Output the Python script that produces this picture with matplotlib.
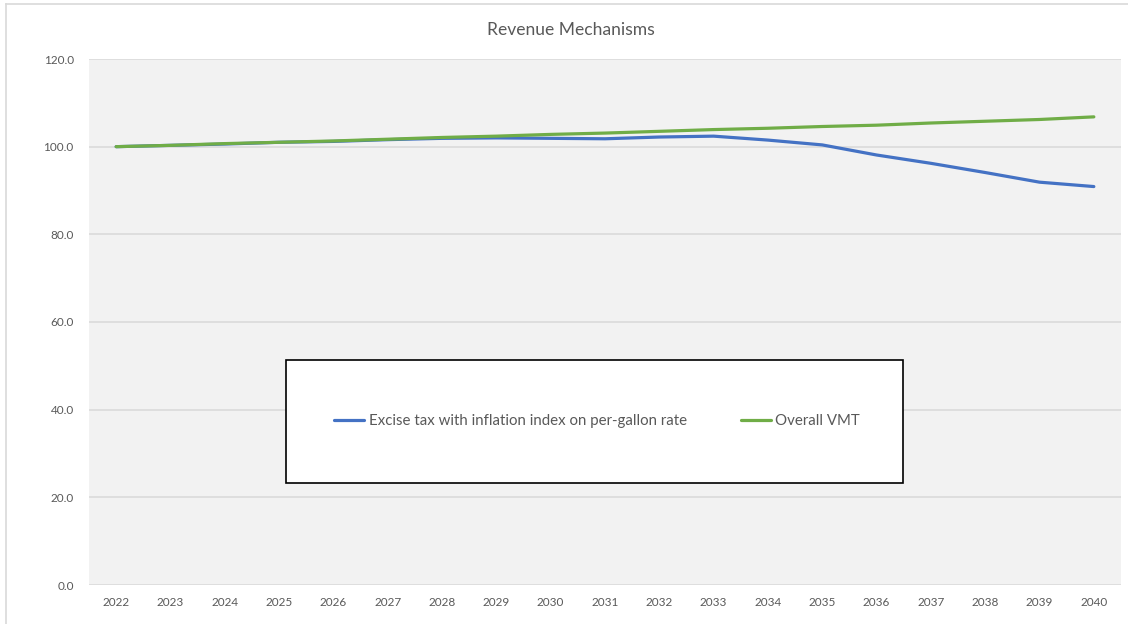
import matplotlib.pyplot as plt
from matplotlib.patches import Rectangle
from matplotlib.lines import Line2D

# data
years = [str(y) for y in range(2022, 2041)]
excise = [100.0, 100.3, 100.6, 101.0, 101.2, 101.6, 101.9, 102.0, 101.9, 101.8,
          102.2, 102.4, 101.5, 100.4, 98.1, 96.2, 94.1, 91.9, 90.9]
vmt = [100.0, 100.3, 100.7, 101.0, 101.3, 101.7, 102.1, 102.4, 102.8, 103.1,
       103.5, 103.9, 104.2, 104.6, 104.9, 105.4, 105.8, 106.2, 106.8]
series_names = ["Excise tax with inflation index on per-gallon rate", "Overall VMT"]
yticks = [0, 20, 40, 60, 80, 100, 120]

plt.rcParams['font.family'] = ['Lato', 'DejaVu Sans']
W, H = 1128, 624
fig = plt.figure(figsize=(W / 100, H / 100), dpi=100)
fig.patch.set_facecolor('white')

ax = fig.add_axes([89 / W, 1 - 585 / H, (1121 - 89) / W, (585 - 59) / H])
ax.set_facecolor('#f2f2f2')

x = list(range(len(years)))
l1, = ax.plot(x, excise, color='#4472C4', lw=2.3, solid_capstyle='round', zorder=3)
l2, = ax.plot(x, vmt, color='#70AD47', lw=2.3, solid_capstyle='round', zorder=4)

ax.set_xlim(-0.5, len(years) - 0.5)
ax.set_ylim(0, 120)
ax.set_yticks(yticks)
ax.set_yticklabels([f"{v:.1f}" for v in yticks])
ax.set_xticks(x)
ax.set_xticklabels(years)
ax.tick_params(axis='both', length=0, labelsize=8.5, colors='#595959')
ax.tick_params(axis='y', pad=11)
ax.tick_params(axis='x', pad=9)
ax.grid(axis='y', color='#d9d9d9', lw=1.1)
ax.set_axisbelow(True)
for s in ax.spines.values():
    s.set_visible(False)

fig.text(571 / W, 1 - 30 / H, "Revenue Mechanisms", ha='center', va='center',
         fontsize=12.6, color='#595959')

# legend box
fig.add_artist(Rectangle((286 / W, 1 - 483 / H), (903 - 286) / W, (483 - 360) / H,
                         transform=fig.transFigure, facecolor='white',
                         edgecolor='black', lw=1.2, zorder=1))
fig.legend([l1, l2], series_names, loc='center', ncol=2, frameon=False,
           bbox_to_anchor=(597 / W, 1 - 421 / H), fontsize=10.8,
           handlelength=2.0, handletextpad=0.3, columnspacing=3.6,
           labelcolor='#595959').set_zorder(5)

# outer chart border
fig.add_artist(Line2D([6 / W, 1], [1 - 4 / H, 1 - 4 / H], transform=fig.transFigure,
                      color='#d9d9d9', lw=1.2))
fig.add_artist(Line2D([6 / W, 6 / W], [0, 1 - 4 / H], transform=fig.transFigure,
                      color='#d9d9d9', lw=1.2))

fig.savefig('out.png', dpi=100)
